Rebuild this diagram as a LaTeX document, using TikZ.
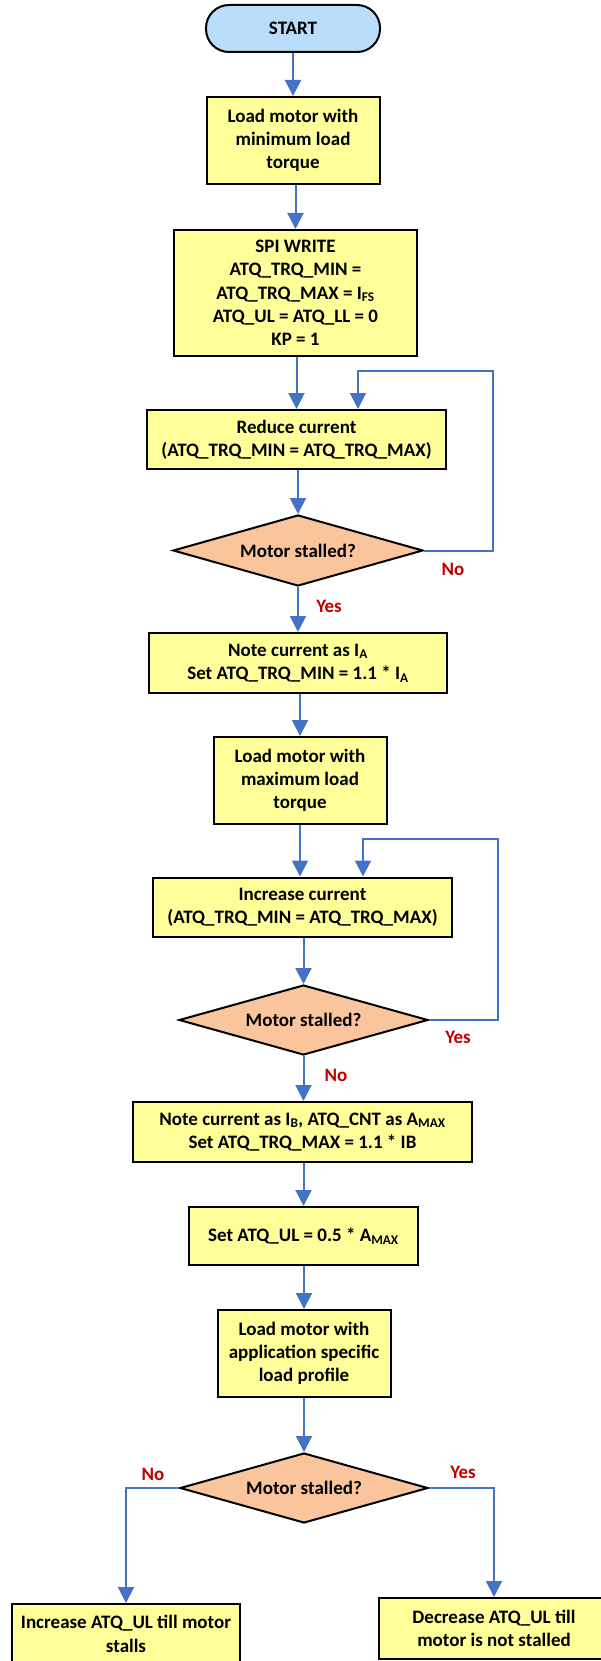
\documentclass[tikz,border=0pt]{standalone}
\usepackage{fontspec}
\setmainfont{Carlito}
\usetikzlibrary{shapes.geometric,arrows.meta}
\definecolor{boxyellow}{HTML}{FFFF99}
\definecolor{startblue}{HTML}{B9DDFB}
\definecolor{peach}{HTML}{FAC59C}
\definecolor{arrowblue}{HTML}{4472C4}
\definecolor{labred}{HTML}{C00000}
\begin{document}
\begin{tikzpicture}[x=1pt,y=-1pt,
  font=\fontsize{19}{23.3}\selectfont\bfseries,
  box/.style={draw=black, line width=2pt, fill=boxyellow, align=center, inner sep=0pt},
  term/.style={draw=black, line width=2pt, fill=startblue, rounded corners=23pt, align=center, inner sep=0pt},
  decision/.style={diamond, draw=black, line width=2pt, fill=peach, align=center, inner sep=0pt, aspect=3.5},
  flow/.style={draw=arrowblue, line width=2pt, -{Triangle[width=16pt,length=16pt]}},
  lab/.style={text=labred, inner sep=0pt}]
\useasboundingbox (0,0) rectangle (600,1661);

\node[term, minimum width=174pt, minimum height=47pt] (start) at (293,28.5) {START};
\node[box, minimum width=173pt, minimum height=87pt] (b1) at (293,140.5) {Load motor with\\minimum load\\torque};
\node[box, minimum width=243pt, minimum height=126pt] (b2) at (295.5,293) {SPI WRITE\\ATQ\_TRQ\_MIN =\\ATQ\_TRQ\_MAX = I\textsubscript{FS}\\ATQ\_UL = ATQ\_LL = 0\\KP = 1};
\node[box, minimum width=299pt, minimum height=59pt] (b3) at (296.5,439.5) {Reduce current\\(ATQ\_TRQ\_MIN = ATQ\_TRQ\_MAX)};
\node[decision, minimum width=250pt, minimum height=71pt] (d1) at (298,550.5) {Motor stalled?};
\node[box, minimum width=298pt, minimum height=60pt] (b4) at (298,663) {Note current as I\textsubscript{A}\\Set ATQ\_TRQ\_MIN = 1.1 * I\textsubscript{A}};
\node[box, minimum width=173pt, minimum height=87pt] (b5) at (300,780.5) {Load motor with\\maximum load\\torque};
\node[box, minimum width=299pt, minimum height=59pt] (b6) at (302.5,907) {Increase current\\(ATQ\_TRQ\_MIN = ATQ\_TRQ\_MAX)};
\node[decision, minimum width=249pt, minimum height=70pt] (d2) at (303.5,1020) {Motor stalled?};
\node[box, minimum width=339pt, minimum height=60pt] (b7) at (302.5,1132) {Note current as I\textsubscript{B}, ATQ\_CNT as A\textsubscript{MAX}\\Set ATQ\_TRQ\_MAX = 1.1 * IB};
\node[box, minimum width=229pt, minimum height=58pt] (b8) at (303.5,1236) {Set ATQ\_UL = 0.5 * A\textsubscript{MAX}};
\node[box, minimum width=173pt, minimum height=87pt] (b9) at (304,1353.5) {Load motor with\\application specific\\load profile};
\node[decision, minimum width=248pt, minimum height=70pt] (d3) at (304,1488) {Motor stalled?};
\node[box, minimum width=228pt, minimum height=60pt] (b10) at (126,1634) {Increase ATQ\_UL till motor\\stalls};
\node[box, minimum width=230pt, minimum height=61pt] (b11) at (494,1628.5) {Decrease ATQ\_UL till\\motor is not stalled};

\node[lab] (no1) at (453,569) {No};
\node[lab] (yes1) at (329,606) {Yes};
\node[lab] (yes2) at (458,1037) {Yes};
\node[lab] (no2) at (336,1075) {No};
\node[lab] (no3) at (153,1474) {No};
\node[lab] (yes3) at (463,1472) {Yes};

\coordinate (l1a) at (493,550.5);
\coordinate (l1b) at (493,371);
\coordinate (l1c) at (358,371);
\coordinate (l2a) at (498,1020);
\coordinate (l2b) at (498,839);
\coordinate (l2c) at (363,839);

\draw[flow] (start) -- (b1);
\draw[flow] (b1.south -| b2.north) -- (b2.north);
\draw[flow] (b2.south -| b3.north) -- (b3.north);
\draw[flow] (b3.south -| d1.north) -- (d1.north);
\draw[flow] (d1.south) -- (d1.south |- b4.north);
\draw[flow] (b4.south -| b5.north) -- (b5.north);
\draw[flow] (b5.south) -- (b5.south |- b6.north);
\draw[flow] (b6.south -| d2.north) -- (d2.north);
\draw[flow] (d2.south) -- (d2.south |- b7.north);
\draw[flow] (b7.south -| b8.north) -- (b8.north);
\draw[flow] (b8.south -| b9.north) -- (b9.north);
\draw[flow] (b9.south -| d3.north) -- (d3.north);
\draw[flow] (d1.east) -- (l1a) -- (l1b) -- (l1c) -- (l1c |- b3.north);
\draw[flow] (d2.east) -- (l2a) -- (l2b) -- (l2c) -- (l2c |- b6.north);
\draw[flow] (d3.west) -| (b10.north);
\draw[flow] (d3.east) -| (b11.north);
\end{tikzpicture}
\end{document}
